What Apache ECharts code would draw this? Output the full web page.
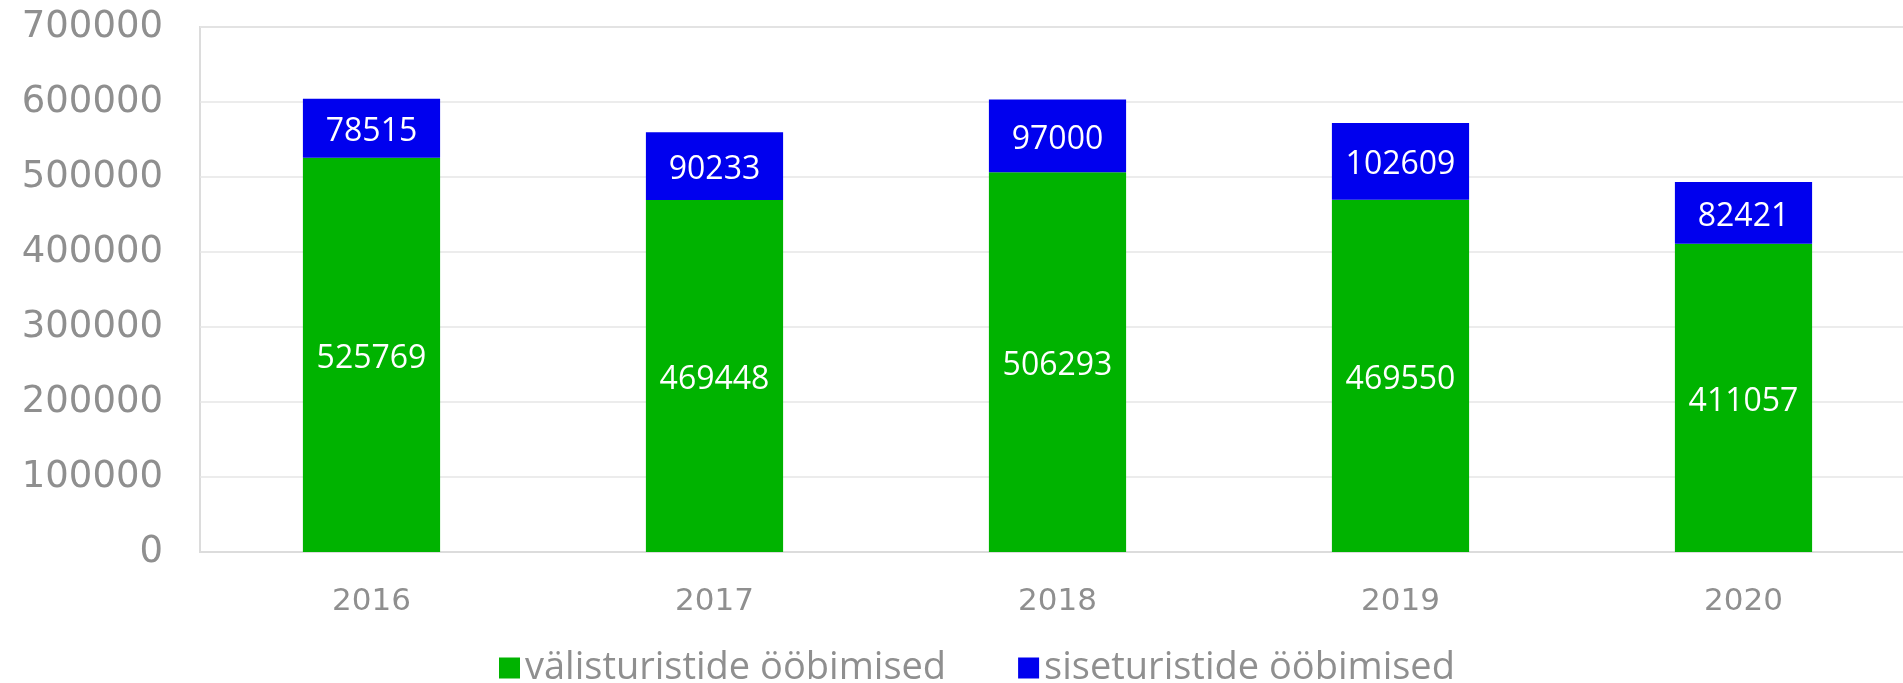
<!DOCTYPE html>
<html>
<head>
<meta charset="utf-8">
<script src="https://cdn.jsdelivr.net/npm/echarts@6/dist/echarts.min.js"></script>
<style>
  html, body { margin: 0; padding: 0; background: #fff; overflow: hidden; }
  #chart { width: 1915px; height: 683px; }
</style>
</head>
<body>
<div id="chart"></div>
<script>
// andmed
const years = ['2016', '2017', '2018', '2019', '2020']
const valisturistid = [525769, 469448, 506293, 469550, 411057]
const siseturistid = [78515, 90233, 97000, 102609, 82421]
const seriesNames = ['välisturistide ööbimised', 'siseturistide ööbimised']

const font = '"Open Sans", sans-serif'
const axisFont = '"DejaVu Sans", sans-serif'
const gray = '#8f8f8f'

const myChart = echarts.init(document.getElementById('chart'))

const labelStyle = {
  show: true,
  position: 'inside',
  offset: [0, 4],
  color: '#fff',
  fontFamily: font,
  fontSize: 32
}

const option = {
  animation: false,
  grid: {
    left: 200,
    right: 0,
    top: 27,
    bottom: 131,
    show: true,
    borderColor: '#dcdcdc',
    borderWidth: 2
  },
  legend: {
    left: 499,
    top: 649,
    padding: 0,
    itemWidth: 21,
    itemHeight: 21,
    itemGap: 72,
    icon: 'rect',
    textStyle: { color: gray, fontFamily: font, fontSize: 38 },
    data: seriesNames
  },
  xAxis: {
    type: 'category',
    data: years,
    axisTick: { show: false },
    axisLine: { lineStyle: { color: '#dcdcdc', width: 2 } },
    axisLabel: { color: gray, fontFamily: axisFont, fontSize: 31, margin: 34 }
  },
  yAxis: {
    type: 'value',
    min: 0,
    max: 700000,
    interval: 100000,
    axisLabel: {
      color: gray, fontFamily: axisFont, fontSize: 37, margin: 37,
      formatter: v => String(v)
    },
    splitLine: { lineStyle: { color: '#e6e6e6', width: 1.5 } }
  },
  series: [
    {
      name: seriesNames[0],
      type: 'bar',
      stack: 'kokku',
      data: valisturistid,
      barWidth: '40%',
      itemStyle: { color: '#00b300' },
      label: labelStyle
    },
    {
      name: seriesNames[1],
      type: 'bar',
      stack: 'kokku',
      data: siseturistid,
      barWidth: '40%',
      itemStyle: { color: '#0000ee' },
      label: labelStyle
    }
  ]
}

myChart.setOption(option)
</script>
</body>
</html>
